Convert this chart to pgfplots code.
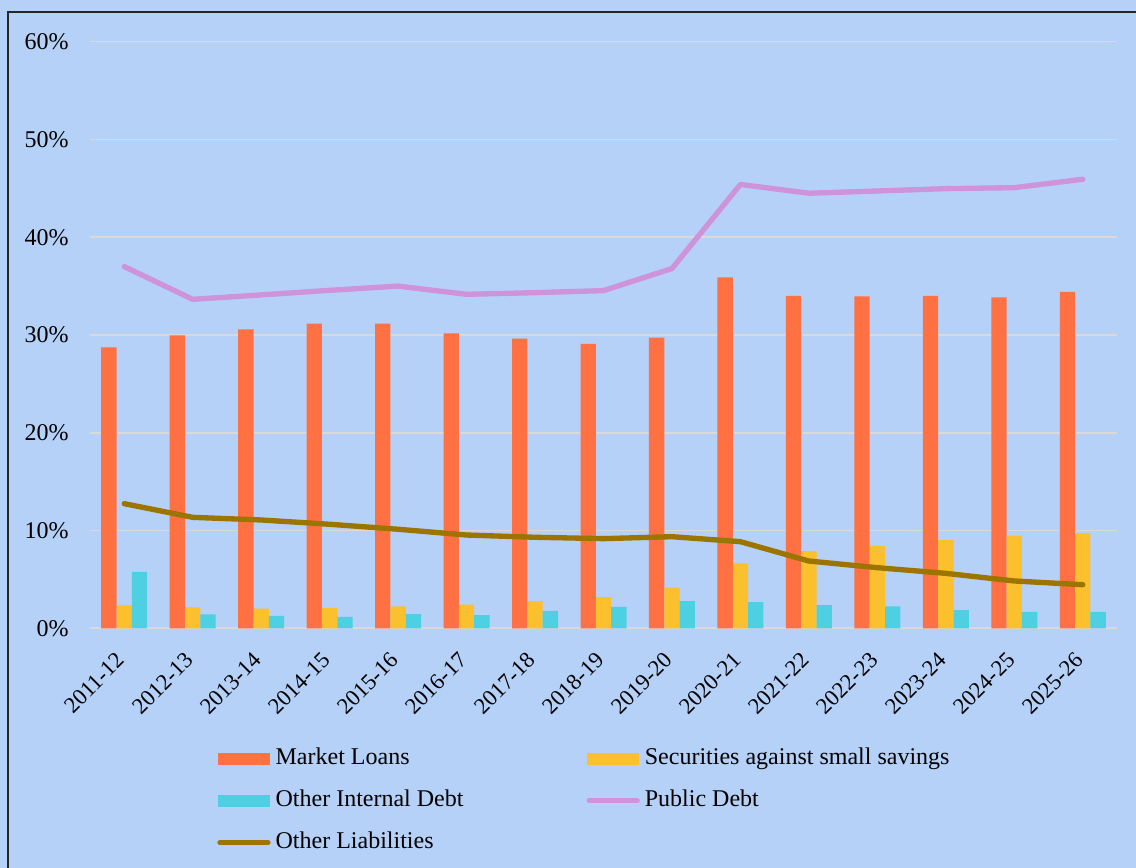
\documentclass[border=0pt]{standalone}
\usepackage{fontspec}
\setmainfont{Liberation Serif}
\usepackage{pgfplots}
\pgfplotsset{compat=1.18}
\definecolor{bg}{RGB}{181,209,247}
\definecolor{gridc}{RGB}{217,217,217}
\definecolor{mlc}{RGB}{255,112,67}
\definecolor{secc}{RGB}{251,192,45}
\definecolor{oidc}{RGB}{77,208,225}
\definecolor{pdc}{RGB}{206,147,216}
\definecolor{olc}{RGB}{156,116,0}
\pgfplotsset{
  barleg/.style={legend image code/.code={\fill[##1, draw=none] (0pt,-4.5pt) rectangle (39pt,4.5pt);}},
  lineleg/.style={legend image code/.code={\draw[##1, line cap=round] (1.5pt,0pt) -- (37.5pt,0pt);}},
}
\begin{document}
\begin{tikzpicture}[x=0.75pt,y=0.75pt]
\fill[bg] (0,0) rectangle (1136,868);
\useasboundingbox (0,0) rectangle (1136,868);
\draw[line width=1.5pt, black!85] (7.5,0) -- (7.5,855.5) -- (1136,855.5);
\begin{axis}[
  at={(67.5pt,179.775pt)}, anchor=south west,
  scale only axis, width=770.25pt, height=439.95pt,
  xmin=-0.5, xmax=14.5, ymin=0, ymax=60,
  axis line style={draw=none}, major tick length=0pt,
  ymajorgrids, grid style={line width=1.2pt, gridc},
  ytick={0,10,20,30,40,50,60},
  yticklabel={\pgfmathprintnumber{\tick}\%},
  /pgf/number format/assume math mode=true,
  yticklabel style={font=\fontsize{18}{18}\selectfont, inner sep=0pt, xshift=-15.75pt},
  xtick={0,...,14},
  xticklabels={2011-12,2012-13,2013-14,2014-15,2015-16,2016-17,2017-18,2018-19,2019-20,2020-21,2021-22,2022-23,2023-24,2024-25,2025-26},
  xticklabel style={xshift=-2.5pt, yshift=-21pt, rotate=45, anchor=east, inner sep=0pt, font=\fontsize{17}{17}\selectfont},
  legend columns=2,
  legend cell align=left,
  legend style={draw=none, fill=none, at={(0.1237,-0.2024)}, anchor=north west,
    inner sep=0pt, row sep=14.5pt,
    font=\fontsize{18}{18}\selectfont,
    nodes={inner sep=0pt, text height=13pt, text depth=4pt},
    /tikz/every odd column/.append style={column sep=3.75pt},
    /tikz/every even column/.append style={column sep=92.25pt}},
]
\addplot[ybar, bar width=11.5pt, bar shift=-11.5pt, fill=mlc, draw=none, barleg] coordinates {
(0,28.74) (1,29.97) (2,30.58) (3,31.16) (4,31.16) (5,30.17) (6,29.62) (7,29.08) (8,29.73) (9,35.90) (10,33.99) (11,33.96) (12,33.99) (13,33.86) (14,34.40)};
\addlegendentry{Market Loans}
\addplot[ybar, bar width=11.5pt, bar shift=0pt, fill=secc, draw=none, barleg] coordinates {
(0,2.35) (1,2.15) (2,2.00) (3,2.08) (4,2.25) (5,2.42) (6,2.79) (7,3.20) (8,4.16) (9,6.65) (10,7.90) (11,8.42) (12,9.03) (13,9.47) (14,9.72)};
\addlegendentry{Securities against small savings}
\addplot[ybar, bar width=11.5pt, bar shift=11.5pt, fill=oidc, draw=none, barleg] coordinates {
(0,5.76) (1,1.43) (2,1.26) (3,1.16) (4,1.46) (5,1.36) (6,1.77) (7,2.18) (8,2.79) (9,2.69) (10,2.38) (11,2.25) (12,1.87) (13,1.67) (14,1.67)};
\addlegendentry{Other Internal Debt}
\addplot[sharp plot, no marks, pdc, line width=4pt, line cap=round, line join=round, lineleg] coordinates {
(0,37.0) (1,33.65) (2,34.1) (3,34.57) (4,35.0) (5,34.16) (6,34.33) (7,34.54) (8,36.8) (9,45.4) (10,44.5) (11,44.73) (12,44.97) (13,45.07) (14,45.93)};
\addlegendentry{Public Debt}
\addplot[sharp plot, no marks, olc, line width=4pt, line cap=round, line join=round, lineleg] coordinates {
(0,12.75) (1,11.35) (2,11.08) (3,10.64) (4,10.13) (5,9.54) (6,9.31) (7,9.17) (8,9.37) (9,8.86) (10,6.88) (11,6.2) (12,5.62) (13,4.84) (14,4.46)};
\addlegendentry{Other Liabilities}
\end{axis}
\end{tikzpicture}
\end{document}
